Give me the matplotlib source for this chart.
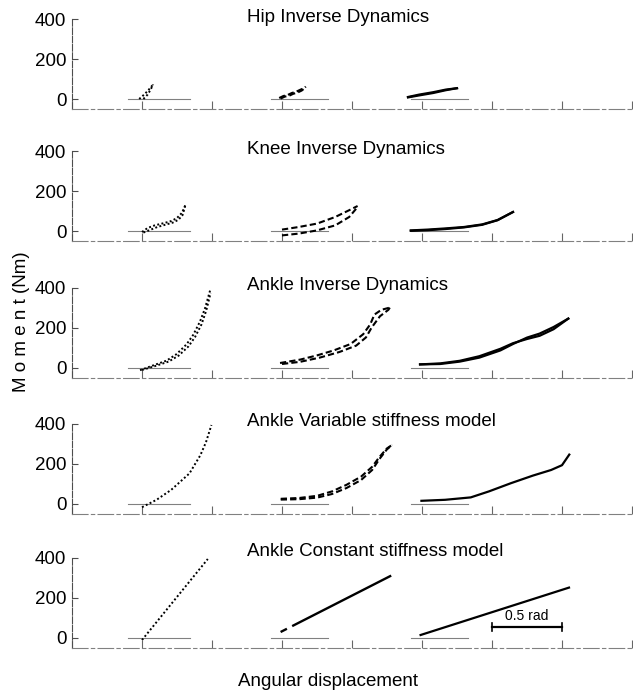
import numpy as np
import matplotlib
matplotlib.use('Agg')
import matplotlib.pyplot as plt

plt.rcParams['font.family'] = ['Liberation Sans', 'DejaVu Sans']

# %% data  (x in rad, moment in Nm)
titles = ['Hip Inverse Dynamics', 'Knee Inverse Dynamics', 'Ankle Inverse Dynamics',
          'Ankle Variable stiffness model', 'Ankle Constant stiffness model']
yticks = [0, 200, 400]
xticks = [0, 0.5, 1.0, 1.5, 2.0, 2.5, 3.0, 3.5, 4.0]
zero_start = [0.40, 1.42, 2.42]
zero_end = [0.84, 1.83, 2.83]

# hip
hip_dot_x1 = [0.48, 0.52, 0.55, 0.58]
hip_dot_y1 = [0, 25, 48, 73]
hip_dot_x2 = [0.51, 0.54, 0.56, 0.58]
hip_dot_y2 = [0, 22, 45, 73]
hip_dash_x1 = [1.48, 1.51, 1.54, 1.57, 1.60, 1.63, 1.66, 1.67]
hip_dash_y1 = [5, 15, 20, 30, 36, 46, 55, 62]
hip_dash_x2 = [1.49, 1.52, 1.55, 1.58, 1.61, 1.64, 1.67]
hip_dash_y2 = [2, 12, 16, 26, 32, 42, 58]
hip_sol_x1 = [2.40, 2.48, 2.58, 2.67, 2.75]
hip_sol_y1 = [10, 22, 34, 47, 54]
hip_sol_x2 = [2.40, 2.48, 2.58, 2.67, 2.75]
hip_sol_y2 = [8, 18, 30, 44, 54]

# knee
knee_dot_x1 = [0.50, 0.54, 0.59, 0.66, 0.71, 0.75, 0.78, 0.80, 0.81]
knee_dot_y1 = [-5, 15, 28, 40, 50, 65, 87, 112, 132]
knee_dot_x2 = [0.51, 0.56, 0.61, 0.67, 0.72, 0.76, 0.79, 0.81]
knee_dot_y2 = [-8, 6, 20, 32, 42, 56, 80, 130]
knee_dash_x1 = [1.50, 1.62, 1.75, 1.88, 1.98, 2.04]
knee_dash_y1 = [7, 20, 37, 70, 104, 125]
knee_dash_x2 = [1.50, 1.62, 1.75, 1.88, 1.98, 2.04]
knee_dash_y2 = [-22, -13, 3, 28, 70, 120]
knee_sol_x1 = [2.42, 2.54, 2.67, 2.80, 2.93, 3.04, 3.15]
knee_sol_y1 = [3, 7, 13, 20, 33, 55, 95]
knee_sol_x2 = [2.42, 2.54, 2.67, 2.80, 2.93, 3.04, 3.15]
knee_sol_y2 = [1, 4, 10, 18, 31, 54, 95]

# ankle inverse dynamics
aid_dot_x1 = [0.486, 0.58, 0.676, 0.748, 0.819, 0.867, 0.914, 0.95, 0.986]
aid_dot_y1 = [-11, 13, 37, 70, 119, 167, 232, 298, 387]
aid_dot_x2 = [0.50, 0.595, 0.69, 0.762, 0.832, 0.879, 0.925, 0.958, 0.99]
aid_dot_y2 = [-10, 10, 32, 62, 108, 155, 218, 285, 375]
aid_dash_x1 = [1.486, 1.63, 1.75, 1.87, 1.99, 2.08, 2.13, 2.16, 2.21, 2.27]
aid_dash_y1 = [25, 42, 63, 88, 120, 169, 218, 267, 291, 302]
aid_dash_x2 = [1.50, 1.63, 1.77, 1.91, 2.03, 2.10, 2.14, 2.20, 2.26, 2.27]
aid_dash_y2 = [20, 31, 52, 80, 112, 153, 202, 259, 291, 302]
aid_sol_x1 = [2.486, 2.63, 2.77, 2.91, 3.06, 3.15, 3.25, 3.34, 3.44, 3.545]
aid_sol_y1 = [18, 23, 36, 59, 96, 124, 145, 161, 194, 247]
aid_sol_x2 = [2.486, 2.63, 2.77, 2.91, 3.06, 3.15, 3.25, 3.34, 3.44, 3.545]
aid_sol_y2 = [18, 20, 32, 52, 88, 120, 152, 172, 205, 247]

# ankle variable stiffness model
avs_dot_x = [0.5, 0.604, 0.709, 0.839, 0.917, 0.957, 0.996]
avs_dot_y = [-16, 21, 71, 153, 244, 309, 395]
avs_dash_x1 = [1.491, 1.622, 1.752, 1.857, 1.961, 2.065, 2.144, 2.196, 2.248, 2.287]
avs_dash_y1 = [26, 30, 41, 63, 96, 137, 186, 235, 277, 296]
avs_dash_x2 = [1.491, 1.622, 1.752, 1.857, 1.961, 2.065, 2.144, 2.196, 2.248, 2.287]
avs_dash_y2 = [22, 24, 32, 50, 80, 120, 170, 225, 272, 296]
avs_sol_x = [2.496, 2.665, 2.848, 2.978, 3.135, 3.292, 3.422, 3.5, 3.552]
avs_sol_y = [16, 21, 33, 63, 104, 142, 170, 194, 247]

# ankle constant stiffness model
acs_dot_x = [0.50, 0.97]
acs_dot_y = [-10, 395]
acs_dash_x = [1.49, 2.28]
acs_dash_y = [30, 312]
acs_sol_x = [2.49, 3.55]
acs_sol_y = [15, 252]
bar_x = [3.0, 3.5]
bar_y = 55

panels = [
    [(hip_dot_x1, hip_dot_y1), (hip_dot_x2, hip_dot_y2)],
    [(knee_dot_x1, knee_dot_y1), (knee_dot_x2, knee_dot_y2)],
    [(aid_dot_x1, aid_dot_y1), (aid_dot_x2, aid_dot_y2)],
    [(avs_dot_x, avs_dot_y)],
    [(acs_dot_x, acs_dot_y)],
]
panels_dash = [
    [(hip_dash_x1, hip_dash_y1), (hip_dash_x2, hip_dash_y2)],
    [(knee_dash_x1, knee_dash_y1), (knee_dash_x2, knee_dash_y2)],
    [(aid_dash_x1, aid_dash_y1), (aid_dash_x2, aid_dash_y2)],
    [(avs_dash_x1, avs_dash_y1), (avs_dash_x2, avs_dash_y2)],
    [(acs_dash_x, acs_dash_y)],
]
panels_sol = [
    [(hip_sol_x1, hip_sol_y1), (hip_sol_x2, hip_sol_y2)],
    [(knee_sol_x1, knee_sol_y1), (knee_sol_x2, knee_sol_y2)],
    [(aid_sol_x1, aid_sol_y1), (aid_sol_x2, aid_sol_y2)],
    [(avs_sol_x, avs_sol_y)],
    [(acs_sol_x, acs_sol_y)],
]

# %% figure
W, H = 633, 694
fig = plt.figure(figsize=(W / 100, H / 100), dpi=100)

bottoms_px = [109, 241, 378, 514, 648]   # pixel row of the baseline of each panel
title_y = [410, 410, 410, 415, 432]

for i in range(5):
    b = bottoms_px[i]
    ax = fig.add_axes([72 / W, 1 - b / H, 560 / W, 90 / H])
    ax.set_xlim(0, 4)
    ax.set_ylim(-50, 400)

    for s, e in zip(zero_start, zero_end):
        ax.plot([s, e], [0, 0], color='0.5', lw=0.8)

    for x, y in panels[i]:
        ax.plot(x, y, color='k', lw=1.4, linestyle=(0, (1, 1.2)))
    for x, y in panels_dash[i]:
        if i == 4:
            # nearly solid: one short dash at the start
            ax.plot(x, y, color='k', lw=1.7, linestyle=(0, (3, 2.5, 300, 1)))
        else:
            ax.plot(x, y, color='k', lw=1.5, linestyle=(0, (3, 1.5)))
    for x, y in panels_sol[i]:
        ax.plot(x, y, color='k', lw=1.6)

    ax.text(1.25, title_y[i], titles[i], fontsize=13.5, ha='left', va='center',
            clip_on=False)

    ax.set_xticks(xticks)
    ax.set_xticklabels([])
    ax.set_yticks(yticks)
    ax.tick_params(axis='x', direction='in', length=6, color='0.4', width=0.8)
    ax.tick_params(axis='y', direction='in', length=4, color='0.3', width=0.8,
                   labelsize=13.5, pad=4)
    ax.spines['top'].set_visible(False)
    ax.spines['right'].set_visible(False)
    ax.spines['bottom'].set_color('0.5')
    ax.spines['bottom'].set_linewidth(0.8)
    ax.spines['bottom'].set_linestyle((0, (14, 3, 3, 3)))
    ax.spines['left'].set_color('0.3')
    ax.spines['left'].set_linewidth(0.8)
    ax.spines['left'].set_linestyle((0, (6, 1.5)))
    ax.patch.set_alpha(0)

    if i == 4:
        ax.plot(bar_x, [bar_y, bar_y], color='k', lw=1.6)
        for bx in bar_x:
            ax.plot([bx, bx], [bar_y - 18, bar_y + 18], color='k', lw=1.2)
        ax.text(np.mean(bar_x), bar_y + 22, '0.5 rad', fontsize=10,
                ha='center', va='bottom')

fig.text(22 / W, 1 - 322 / H, 'M o m e n t (Nm)', rotation=90, fontsize=13.5,
         ha='center', va='center')
fig.text(328 / W, 1 - 682 / H, 'Angular displacement', fontsize=13.5,
         ha='center', va='center')

fig.savefig('out.png', dpi=100)
